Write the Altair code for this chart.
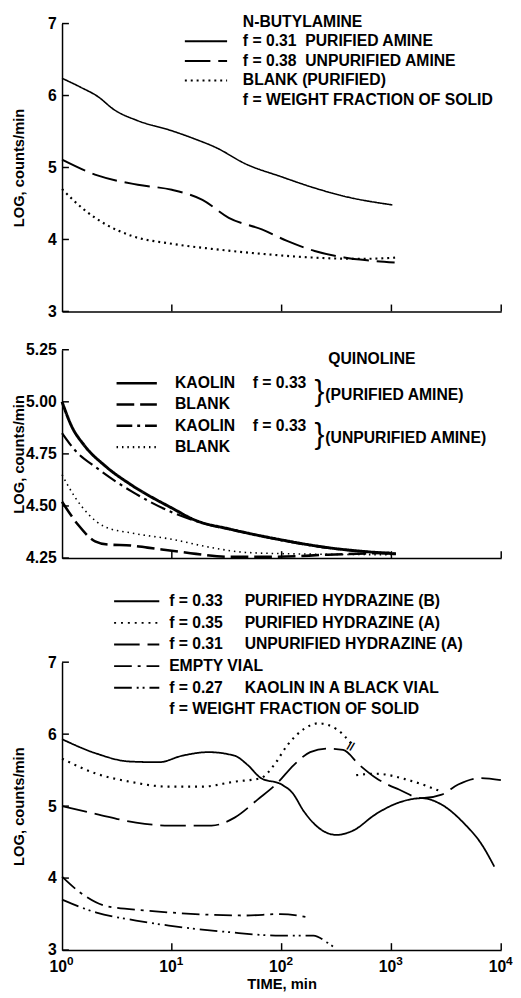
import altair as alt
import pandas as pd

FONT = "Liberation Sans"
NB = "\u00a0"

# ---------------- Panel 1: N-BUTYLAMINE ----------------
nb_labels = ["N-BUTYLAMINE",
             "f = 0.31" + NB * 2 + "PURIFIED AMINE",
             "f = 0.38" + NB * 2 + "UNPURIFIED AMINE",
             "BLANK (PURIFIED)",
             "f = WEIGHT FRACTION OF SOLID"]
nb_dash = [[0, 1000], [1, 0], [26, 8], [2, 4], [0, 1000]]
nb_width = [0, 1.6, 2.0, 2.2, 0]
nb_pur_t = [1, 1.5, 2.1, 3.0, 4.9, 10, 16.6, 25, 47, 100, 186, 372, 1020]
nb_pur_v = [6.24, 6.11, 5.99, 5.80, 5.65, 5.51, 5.39, 5.28, 5.05, 4.87, 4.73, 4.60, 4.48]
nb_unp_t = [1, 2.1, 4.9, 10, 19, 33, 66, 112, 200, 372, 600, 1070]
nb_unp_v = [5.11, 4.89, 4.76, 4.69, 4.55, 4.30, 4.14, 3.98, 3.84, 3.75, 3.71, 3.68]
nb_blk_t = [1, 1.6, 2.5, 4.3, 10, 23, 66, 186, 525, 1150]
nb_blk_v = [4.70, 4.41, 4.21, 4.05, 3.94, 3.87, 3.80, 3.75, 3.73, 3.75]

# ---------------- Panel 2: QUINOLINE ----------------
q_labels = ["KAOLIN" + NB * 4 + "f = 0.33",
            "BLANK",
            "KAOLIN" + NB * 4 + "f = 0.33" + NB,
            "BLANK" + NB]
q_dash = [[1, 0], [18, 6], [16, 5, 3, 5], [1.5, 4]]
q_width = [3.0, 2.6, 2.2, 1.6]
q_kp_t = [1, 1.23, 1.6, 2.5, 4.3, 10, 16.6, 33, 93, 263, 1100]
q_kp_v = [5.0, 4.88, 4.79, 4.69, 4.60, 4.49, 4.43, 4.39, 4.34, 4.30, 4.27]
q_bp_t = [1, 1.4, 2.0, 2.6, 4.3, 6.0, 10, 16.6, 33, 93, 263, 1000]
q_bp_v = [4.52, 4.41, 4.33, 4.315, 4.31, 4.30, 4.285, 4.27, 4.256, 4.256, 4.266, 4.275]
q_ku_t = [1, 1.3, 2.1, 4.3, 10, 20, 40, 100, 300, 1100]
q_ku_v = [4.85, 4.77, 4.68, 4.57, 4.47, 4.415, 4.38, 4.335, 4.295, 4.27]
q_bu_t = [1, 1.32, 1.74, 2.45, 4.3, 10, 23, 47, 132, 1000]
q_bu_v = [4.65, 4.54, 4.46, 4.40, 4.37, 4.34, 4.30, 4.277, 4.27, 4.266]

# ---------------- Panel 3: HYDRAZINE ----------------
h_labels = ["f = 0.33" + NB * 5 + "PURIFIED HYDRAZINE (B)",
            "f = 0.35" + NB * 5 + "PURIFIED HYDRAZINE (A)",
            "f = 0.31" + NB * 5 + "UNPURIFIED HYDRAZINE (A)",
            NB * 17 + "EMPTY VIAL",
            "f = 0.27" + NB * 5 + "KAOLIN IN A BLACK VIAL",
            NB * 17 + "f = WEIGHT FRACTION OF SOLID"]
h_dash = [[1, 0], [2, 5], [26, 8], [18, 6, 3, 6], [18, 5, 2, 4, 2, 5], [0, 1000]]
h_width = [1.8, 2.2, 1.8, 1.8, 1.8, 0]
h_b_t = [1, 2.06, 4.11, 7.64, 12.4, 21.5, 37.3, 49.2, 64.7, 100, 126, 159, 209, 316, 447, 723, 1172, 1897, 2871, 4656, 6561, 8650]
h_b_v = [5.93, 5.73, 5.62, 5.61, 5.70, 5.75, 5.70, 5.57, 5.39, 5.30, 5.18, 4.93, 4.72, 4.60, 4.66, 4.89, 5.05, 5.11, 5.02, 4.75, 4.48, 4.16]
h_a1_t = [1, 2.06, 4.11, 9.4, 18.7, 37.3, 64.7, 85.3, 112, 159, 216, 316, 447]
h_a1_v = [5.66, 5.45, 5.34, 5.27, 5.27, 5.34, 5.39, 5.57, 5.84, 6.07, 6.15, 6.07, 5.84]
h_a2_t = [478, 723, 1441, 2871]
h_a2_v = [5.43, 5.45, 5.36, 5.20]
h_u_t = [1, 2.06, 4.72, 9.4, 23, 37.3, 60.4, 91.4, 129, 182, 257, 363, 513, 723, 1172, 1897, 2871, 4055, 6561, 9930]
h_u_v = [5.0, 4.89, 4.77, 4.73, 4.73, 4.84, 5.09, 5.32, 5.57, 5.75, 5.80, 5.78, 5.57, 5.39, 5.23, 5.11, 5.16, 5.30, 5.39, 5.36]
h_e_t = [1, 1.46, 2.54, 5.8, 16.3, 45.9, 98, 182]
h_e_v = [4.02, 3.80, 3.61, 3.55, 3.50, 3.48, 3.50, 3.45]
h_k_t = [1, 2.06, 4.72, 9.4, 32.5, 98, 195, 257, 305]
h_k_v = [3.70, 3.52, 3.41, 3.34, 3.25, 3.20, 3.20, 3.11, 3.03]
# break mark ("//") on the unpurified curve
brk_t = [425]
brk_v = [5.83]

x_ticks = [10, 100, 1000, 10000]
x_label_vals = [1, 10, 100, 1000, 10000]
x_exponents = ["0", "1", "2", "3", "4"]
y_ticks_log = [3, 4, 5, 6, 7]
y_ticks_q = [4.25, 4.5, 4.75, 5.0, 5.25]

W = 447
H1, H2, H3 = 293, 212, 293


def make_df(entries):
    rows = []
    for label, seg, ts, vs in entries:
        for t, v in zip(ts, vs):
            rows.append({"series": label, "seg": f"{label}|{seg}", "t": t, "v": v})
    return pd.DataFrame(rows)


AX = dict(domainColor="black", domainWidth=1.5, ticks=False, grid=False,
          labelFont=FONT, labelFontWeight="bold", labelFontSize=16, labelColor="black",
          titleFont=FONT, titleFontWeight="bold", titleFontSize=15, titleColor="black")

XS = alt.Scale(type="log", domain=[1, 10000], nice=False)


def panel(df, labels, dashes, widths, ydom, yvals, yfmt, H, legend, xaxis, extras):
    ys = alt.Scale(domain=ydom, nice=False, zero=False)
    yaxis = alt.Axis(values=yvals, format=yfmt, title="LOG, counts/min",
                     titleX=-36, titleY=H / 2, labelPadding=6, **AX)
    sdash = alt.Scale(domain=labels, range=dashes)
    layers = []
    for lab, w in zip(labels, widths):
        sub = df[df["series"] == lab]
        if len(sub) == 0:
            continue
        layers.append(alt.Chart(sub).mark_line(color="black", interpolate="monotone", strokeWidth=w).encode(
            x=alt.X("t:Q", scale=XS, axis=xaxis),
            y=alt.Y("v:Q", scale=ys, axis=yaxis),
            strokeDash=alt.StrokeDash("series:N", scale=sdash, legend=legend),
            detail="seg:N",
        ))
    xt = alt.Chart(pd.DataFrame({"t": x_ticks})).mark_rule(color="black", strokeWidth=1.5).encode(
        x=alt.X("t:Q", scale=XS, axis=xaxis), y=alt.value(H), y2=alt.value(H - 7))
    yt = alt.Chart(pd.DataFrame({"v": yvals})).mark_rule(color="black", strokeWidth=1.5).encode(
        y=alt.Y("v:Q", scale=ys, axis=yaxis), x=alt.value(0), x2=alt.value(7))
    extra_layers = [e(ys, xaxis, yaxis) if callable(e) else e for e in extras]
    return alt.layer(*layers, xt, yt, *extra_layers).properties(width=W, height=H)


def legend(x, y, offset, size, spacing, sw=2):
    return alt.Legend(orient="none", legendX=x, legendY=y, title=None, symbolType="stroke",
                      symbolSize=size * size, clipHeight=16, rowPadding=spacing - 16,
                      labelOffset=offset, labelFont=FONT, labelFontWeight="bold", labelFontSize=16,
                      labelColor="black", labelLimit=600, symbolStrokeColor="black",
                      symbolStrokeWidth=sw, padding=0)


ONE = pd.DataFrame({"a": [0]})


def note(txt, x, y, size=16, weight="bold"):
    return alt.Chart(ONE).mark_text(text=txt, align="left", baseline="middle", font=FONT,
                                    fontWeight=weight, fontSize=size, color="black").encode(
        x=alt.value(x), y=alt.value(y))


noaxis = alt.Axis(labels=False, ticks=False, title=None, domain=True, grid=False,
                  domainColor="black", domainWidth=1.5, values=x_label_vals)

df1 = make_df([(nb_labels[1], 0, nb_pur_t, nb_pur_v),
               (nb_labels[2], 0, nb_unp_t, nb_unp_v),
               (nb_labels[3], 0, nb_blk_t, nb_blk_v)])
p1 = panel(df1, nb_labels, nb_dash, nb_width, [3, 7], y_ticks_log, "d", H1,
           legend(124, -10, 15, 43, 20), noaxis, [])

df2 = make_df([(q_labels[0], 0, q_kp_t, q_kp_v),
               (q_labels[1], 0, q_bp_t, q_bp_v),
               (q_labels[2], 0, q_ku_t, q_ku_v),
               (q_labels[3], 0, q_bu_t, q_bu_v)])
p2 = panel(df2, q_labels, q_dash, q_width, [4.25, 5.25], y_ticks_q, ".2f", H2,
           legend(54, 26, 17, 41, 21.7, 2.5), noaxis,
           [note("QUINOLINE", 271, 9),
            note("}", 257, 43, size=30, weight="normal"),
            note("(PURIFIED AMINE)", 268, 46),
            note("}", 257, 87, size=30, weight="normal"),
            note("(UNPURIFIED AMINE)", 268, 90)])

df3 = make_df([(h_labels[0], 0, h_b_t, h_b_v),
               (h_labels[1], 0, h_a1_t, h_a1_v),
               (h_labels[1], 1, h_a2_t, h_a2_v),
               (h_labels[2], 0, h_u_t, h_u_v),
               (h_labels[3], 0, h_e_t, h_e_v),
               (h_labels[4], 0, h_k_t, h_k_v)])
xaxis3 = alt.Axis(values=x_label_vals, title="TIME, min", labels=False, titlePadding=27,
                  **{k: v for k, v in AX.items()})

XLAB = pd.DataFrame({"t": x_label_vals, "e": x_exponents})


def tens(ys, xaxis, yaxis):
    return alt.Chart(XLAB).mark_text(
        text="10", align="right", baseline="middle", font=FONT, fontWeight="bold", fontSize=16,
        color="black", dx=5).encode(x=alt.X("t:Q", scale=XS, axis=xaxis), y=alt.value(H3 + 17))


def exps(ys, xaxis, yaxis):
    return alt.Chart(XLAB).mark_text(
        align="left", baseline="middle", font=FONT, fontWeight="bold", fontSize=12, color="black",
        dx=5).encode(x=alt.X("t:Q", scale=XS, axis=xaxis), y=alt.value(H3 + 11), text="e:N")


def brk(ys, xaxis, yaxis):
    return alt.Chart(pd.DataFrame({"t": brk_t, "v": brk_v})).mark_text(
        text="//", font=FONT, fontWeight="bold", fontSize=12, color="black", angle=20).encode(
        x=alt.X("t:Q", scale=XS, axis=xaxis), y=alt.Y("v:Q", scale=ys, axis=yaxis))


p3 = panel(df3, h_labels, h_dash, h_width, [3, 7], y_ticks_log, "d", H3,
           legend(52, -70, 9, 46, 22), xaxis3, [tens, exps, brk])

top2 = alt.vconcat(p1, p2, spacing=23).resolve_scale(
    x="independent", y="independent", strokeDash="independent")
chart = alt.vconcat(top2, p3, spacing=28).resolve_scale(
    x="independent", y="independent", strokeDash="independent"
).configure_view(stroke=None).properties(
    padding={"left": 4, "top": -3, "right": 0, "bottom": 0}
)

chart.save("out.html", embed_options={"renderer": "svg", "actions": False})
